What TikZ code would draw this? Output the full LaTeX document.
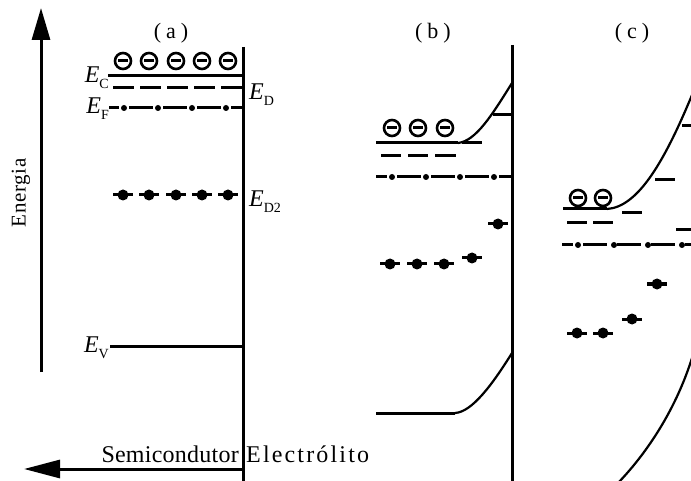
\documentclass[tikz,border=0pt]{standalone}
\usepackage{fontspec}
\setmainfont{Liberation Serif}
\usetikzlibrary{arrows.meta}
\newcommand{\lvl}[2]{\textit{E}\raisebox{-6pt}{\fontsize{14}{14}\selectfont #2}}
\begin{document}
\begin{tikzpicture}[x=1pt,y=-1pt,
 band/.style={line width=3pt},
 bendline/.style={line width=2.2pt},
 elec/.style={circle,draw,line width=2.6pt,minimum size=16pt,inner sep=0pt,
   path picture={\draw[line width=3pt] ([xshift=-5pt]path picture bounding box.center) -- ([xshift=5pt]path picture bounding box.center);}},
 donor/.style={circle,fill,minimum size=11pt,inner sep=0pt},
 fdot/.style={circle,fill,minimum size=6pt,inner sep=0pt},
 fermi/.style={line width=3pt,dash pattern=on 24pt off 10pt},
 lab/.style={font=\fontsize{24}{26}\selectfont,inner sep=0pt},
 plab/.style={font=\fontsize{22}{24}\selectfont,inner sep=0pt},
]
\useasboundingbox (0,0) rectangle (691,481);
\clip (0,0) rectangle (691,481);

% ---------- energy axis ----------
\coordinate (eb) at (41,372);
\coordinate (et) at (41,8);
\draw[line width=3pt,-{Triangle[length=32pt,width=18pt]}] (eb) -- (et);
\node[inner sep=0pt,rotate=90,font=\fontsize{21}{22}\selectfont\addfontfeature{LetterSpace=3}] (energia) at (21,193) {Energia};

% ---------- bottom arrow ----------
\coordinate (ba) at (243,469);
\coordinate (bt) at (24,469);
\draw[line width=3pt,-{Triangle[length=36pt,width=18pt]}] (ba) -- (bt);
\node[inner sep=0pt,anchor=base east,font=\fontsize{24}{26}\selectfont\addfontfeature{LetterSpace=1}] (semi) at (239,462) {Semicondutor};
\node[inner sep=0pt,anchor=base west,font=\fontsize{24}{26}\selectfont\addfontfeature{LetterSpace=9}] (elect) at (246,462) {Electrólito};

% ---------- panel labels ----------
\node[plab] (pa) at (171,33) {(\hspace{5pt}a\hspace{5pt})};
\node[plab] (pb) at (433,33) {(\hspace{5pt}b\hspace{5pt})};
\node[plab] (pc) at (632,33) {(\hspace{5pt}c\hspace{5pt})};

% ---------- interfaces ----------
\coordinate (ia1) at (243,47);  \coordinate (ia2) at (243,481);
\coordinate (ib1) at (512,45);  \coordinate (ib2) at (512,481);
\draw[band] (ia1) -- (ia2);
\draw[band] (ib1) -- (ib2);

% ================= panel (a) =================
\draw[band] (108,76) -- (243,76);
\draw[band,dash pattern=on 21pt off 6pt] (113,88) -- (243,88);
\draw[fermi,dash phase=14pt] (109,108) -- (243,108);
\foreach \x in {124,158,192,226} \node[fdot] at (\x,108) {};
\foreach \x [count=\i] in {123,149,176,202,228} {
  \draw[band] (\x-10,195) -- (\x+10,195);
  \node[donor] (da\i) at (\x,195) {};
  \node[elec] (ea\i) at (\x,61) {};
}
\draw[band] (110,346) -- (243,346);

\node[lab,anchor=base east] (lEC) at (109,83) {\lvl{E}{C}};
\node[lab,anchor=base east] (lEF) at (109,114) {\lvl{E}{F}};
\node[lab,anchor=base east] (lEV) at (109,352) {\lvl{E}{V}};
\node[lab,anchor=base west] (lED) at (249,100) {\lvl{E}{D}};
\node[lab,anchor=base west] (lED2) at (249,207) {\lvl{E}{D2}};

% ================= panel (b) =================
\draw[band] (376,143) -- (458,143);
\draw[bendline] (458,143) .. controls (476,141) and (492,115) .. (512,83);
\draw[band] (462,143) -- (482,143);
\draw[band] (493,115) -- (512,115);
\foreach \x [count=\i] in {392,418,445} \node[elec] (eb\i) at (\x,128) {};
\foreach \a/\b in {381/401,408/428,435/456} \draw[band] (\a,156) -- (\b,156);
\draw[fermi,dash phase=13pt] (376,177) -- (512,177);
\foreach \x in {392,426,460,494} \node[fdot] at (\x,177) {};
\foreach \x/\y [count=\i] in {390/264,417/264,444/264,472/258,498/224} {
  \draw[band] (\x-10,\y) -- (\x+10,\y);
  \node[donor] (db\i) at (\x,\y) {};
}
\draw[band] (376,413) -- (455,413);
\draw[bendline] (455,413) .. controls (472,412) and (492,385) .. (512,353);

% ================= panel (c) =================
\draw[band] (563,209) -- (607,209);
\draw[bendline] (607,209) .. controls (637,207) and (663,165) .. (692,95);
\draw[band] (622,213) -- (642,213);
\draw[band] (655,180) -- (675,180);
\draw[band] (682,126) -- (692,126);
\draw[band] (676,230) -- (692,230);
\foreach \x [count=\i] in {578,603} \node[elec] (ec\i) at (\x,198) {};
\foreach \a/\b in {567/587,593/613} \draw[band] (\a,223) -- (\b,223);
\draw[fermi,dash phase=13pt] (562,245) -- (692,245);
\foreach \x in {578,614,648,682} \node[fdot] at (\x,245) {};
\foreach \x/\y [count=\i] in {577/333,603/333,632/319,657/284} {
  \draw[band] (\x-10,\y) -- (\x+10,\y);
  \node[donor] (dc\i) at (\x,\y) {};
}
\draw[bendline] (618,483) .. controls (645,455) and (675,412) .. (692,358);
\end{tikzpicture}
\end{document}
